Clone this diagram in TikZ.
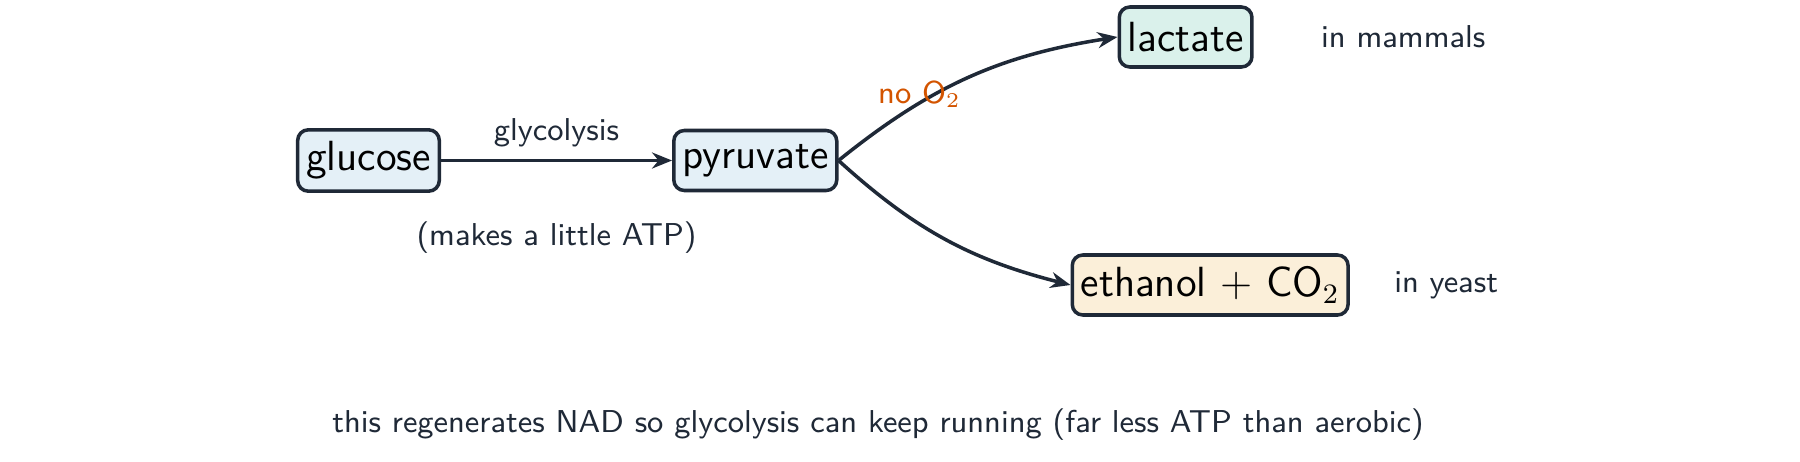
\documentclass[tikz,border=0pt]{standalone}
\usepackage{tikz}
\usetikzlibrary{arrows.meta,positioning}
\definecolor{ink}{HTML}{1F2937}
\definecolor{bluefill}{HTML}{E4F0F7}
\definecolor{greenfill}{HTML}{DAF1EB}
\definecolor{sandfill}{HTML}{FBEFD9}
\definecolor{warn}{HTML}{D35400}

\begin{document}
\begin{tikzpicture}[
  font=\sffamily,
  mol/.style={draw=ink, line width=1pt, rounded corners=3pt, align=center,
              minimum height=0.6cm, inner xsep=2.4pt, font=\sffamily\large},
  note/.style={font=\sffamily\small, text=ink, align=center},
  arrow/.style={-{Stealth[length=2mm, width=1.6mm]}, line width=1pt, draw=ink}
]
\useasboundingbox (0,0) rectangle (18,4.61);

\node[mol, fill=bluefill] (glc) at (3.685,3.005) {glucose};
\node[mol, fill=bluefill, right=2.31cm of glc] (pyr) {pyruvate};
\node[mol, fill=greenfill, right=2.79cm of pyr, yshift=1.235cm] (lac) {lactate};
\node[mol, fill=sandfill, right=2.32cm of pyr, yshift=-1.245cm] (eth) {ethanol $+$ CO$_2$};

\node[note, right=0.55cm of lac] (mam) {in mammals};
\node[note, right=0.32cm of eth] (yst) {in yeast};
\node[note] (sum) at (8.78,0.36) {this regenerates NAD so glycolysis can keep running (far less ATP than aerobic)};

\draw[arrow] (glc) -- node[note, above] (gly) {glycolysis}
  node[note, below=0.48cm] (atp) {(makes a little ATP)} (pyr);
\draw[arrow] (pyr.east) to[bend left=15]
  node[note, pos=0.33, above left=-6pt and -14pt, text=warn] (noox) {no O$_2$} (lac.west);
\draw[arrow] (pyr.east) to[bend right=14] (eth.west);
\end{tikzpicture}
\end{document}
